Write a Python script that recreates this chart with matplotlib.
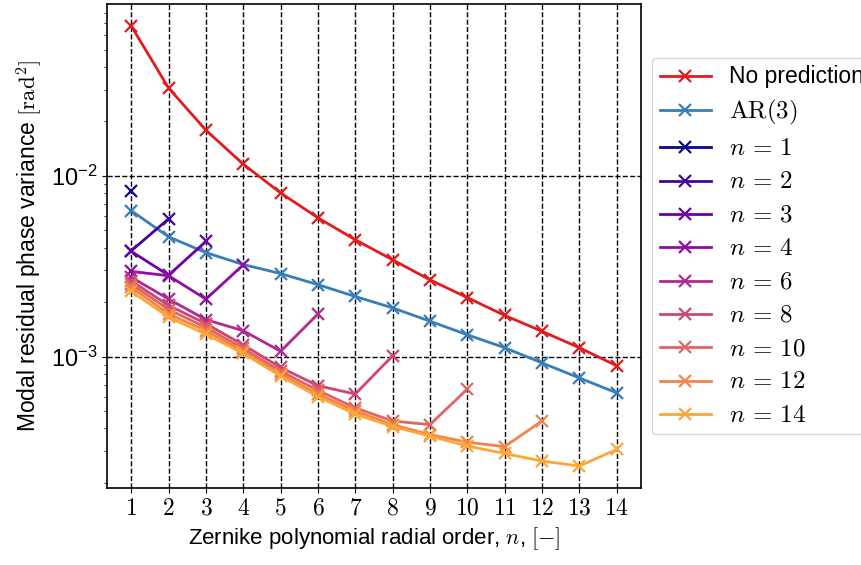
import numpy as np
import matplotlib
matplotlib.use("Agg")
import matplotlib.pyplot as plt

plt.rcParams['mathtext.fontset'] = 'cm'
plt.rcParams['font.family'] = ['Liberation Sans', 'DejaVu Sans']

orders = list(range(1, 15))
tick_labels = [f"${i}$" for i in orders]

no_pred = [0.0675, 0.0306, 0.0179, 0.0116, 0.00805, 0.00586, 0.00443, 0.00343,
           0.00266, 0.00212, 0.00169, 0.00138, 0.00112, 0.00089]
ar3 = [0.00641, 0.0046, 0.00376, 0.00323, 0.00288, 0.0025, 0.00215, 0.00186,
       0.00157, 0.00132, 0.00112, 0.000923, 0.000762, 0.00063]

pred_n1 = [0.0082]
pred_n2 = [0.00385, 0.00579]
pred_n3 = [0.00382, 0.00282, 0.00434]
pred_n4 = [0.00296, 0.00280, 0.00208, 0.00322]
pred_n6 = [0.00275, 0.00208, 0.00160, 0.00139, 0.00107, 0.00172]
pred_n8 = [0.00262, 0.00192, 0.00152, 0.00116, 0.00087, 0.00069, 0.00062, 0.00101]
pred_n10 = [0.00252, 0.00182, 0.00145, 0.00111, 0.00083, 0.00065, 0.00052, 0.00044,
            0.00042, 0.00066]
pred_n12 = [0.00242, 0.00172, 0.00139, 0.00107, 0.00080, 0.00062, 0.00050, 0.00042,
            0.00037, 0.000336, 0.000317, 0.00044]
pred_n14 = [0.00230, 0.00165, 0.00133, 0.00104, 0.00078, 0.00060, 0.00048, 0.00041,
            0.000363, 0.00032, 0.000291, 0.000264, 0.000248, 0.000306]

pred_series = [(1, pred_n1), (2, pred_n2), (3, pred_n3), (4, pred_n4), (6, pred_n6),
               (8, pred_n8), (10, pred_n10), (12, pred_n12), (14, pred_n14)]

fig = plt.figure(figsize=(8.61, 5.65), dpi=100)
ax = fig.add_axes([0.1243, 0.1363, 0.62, 0.8566])

lw = 2.0
ms = 9
mew = 1.6
ax.plot(orders, no_pred, '-x', color='#e41a1c', lw=lw, ms=ms, mew=mew, label='No prediction')
ax.plot(orders, ar3, '-x', color='#377eb8', lw=lw, ms=ms, mew=mew, label=r'$\mathrm{AR}(3)$')

cols = plt.cm.plasma(np.linspace(0, 0.8, len(pred_series)))
for (n, vals), c in zip(pred_series, cols):
    ax.plot(orders[:len(vals)], vals, '-x', color=c, lw=lw, ms=ms, mew=mew,
            label=rf'$n\,=\,{n}$')

ax.set_yscale('log')
ax.set_xticks(orders)
ax.set_xticklabels(tick_labels)
ax.tick_params(axis='both', labelsize=17)
ax.yaxis.set_major_formatter(matplotlib.ticker.LogFormatterMathtext())
ax.grid(True, which='major', color='black', linestyle='--', linewidth=1.0)
for s in ax.spines.values():
    s.set_linewidth(1.2)

ax.set_xlabel(r'Zernike polynomial radial order, $n$, $[-]$', fontsize=16)
ax.set_ylabel(r'Modal residual phase variance $[\mathrm{rad}^2]$', fontsize=16.5)

leg = ax.legend(loc='center left', bbox_to_anchor=(1.0, 0.5), fontsize=16,
                handlelength=2.3, handletextpad=0.8, labelspacing=0.42,
                borderpad=0.35, framealpha=0.8)
for t in leg.get_texts():
    if t.get_text().startswith('$'):
        t.set_fontsize(18)
    else:
        t.set_fontsize(16.5)

fig.savefig('out.png', dpi=100)
